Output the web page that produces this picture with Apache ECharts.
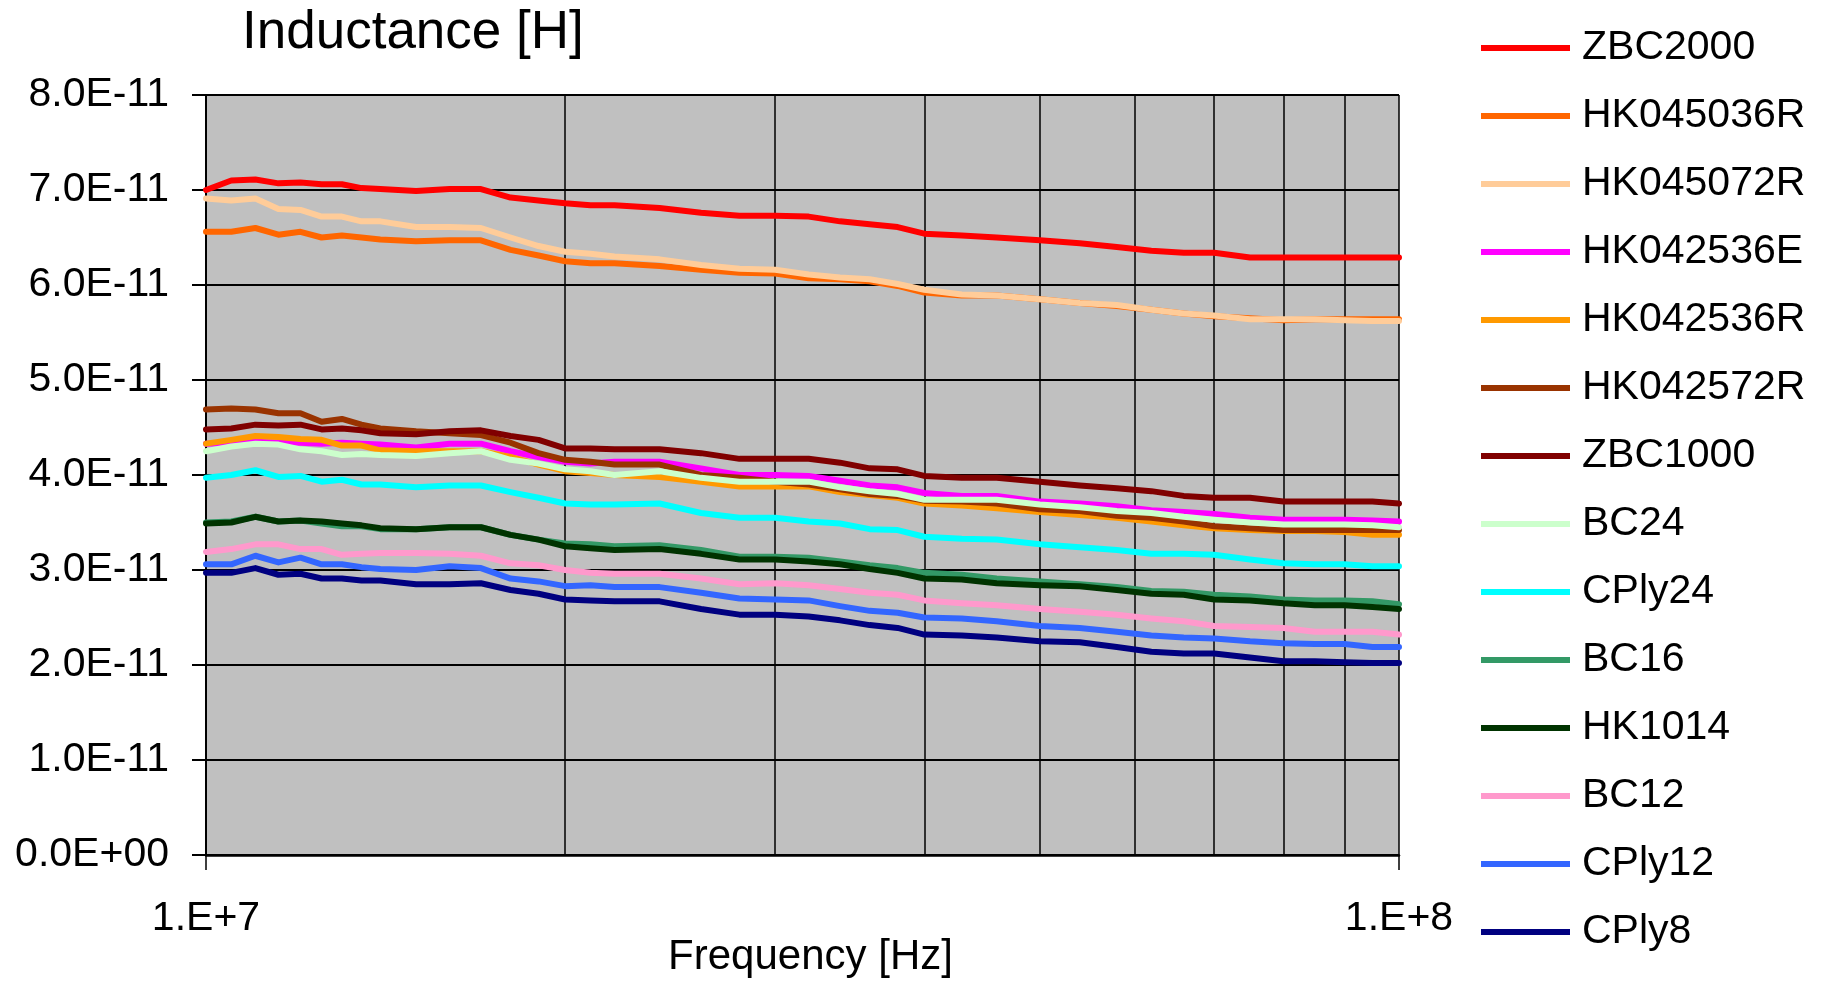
<!DOCTYPE html>
<html>
<head>
<meta charset="utf-8">
<title>Inductance [H]</title>
<script src="https://cdn.jsdelivr.net/npm/echarts@6/dist/echarts.min.js"></script>
<style>
  html, body { margin: 0; padding: 0; background: #fff; }
  #chart { width: 1824px; height: 982px; }
</style>
</head>
<body>
<div id="chart"></div>
<script>
// Frequency samples in MHz
const freqMHz = [10, 10.5, 11, 11.5, 12, 12.5, 13, 13.5, 14, 15, 16, 17, 18, 19, 20, 21, 22, 24, 26, 28,
                 30, 32, 34, 36, 38, 40, 43, 46, 50, 54, 58, 62, 66, 70, 75, 80, 85, 90, 95, 100];

// Inner vertical grid lines of the log frequency axis (MHz)
const minorGridMHz = [20, 30, 40, 50, 60, 70, 80, 90];

// Inductance of each sample, in units of 1E-11 H
const ZBC2000 = [7.00, 7.10, 7.11, 7.07, 7.08, 7.06, 7.06, 7.02, 7.01, 6.99, 7.01, 7.01, 6.92, 6.89, 6.86, 6.84, 6.84, 6.81, 6.76, 6.73,
                 6.73, 6.72, 6.67, 6.64, 6.61, 6.54, 6.52, 6.50, 6.47, 6.44, 6.40, 6.36, 6.34, 6.34, 6.29, 6.29, 6.29, 6.29, 6.29, 6.29];
const HK045036R = [6.56, 6.56, 6.60, 6.53, 6.56, 6.50, 6.52, 6.50, 6.48, 6.46, 6.47, 6.47, 6.37, 6.31, 6.25, 6.23, 6.23, 6.20, 6.16, 6.13,
                   6.12, 6.07, 6.06, 6.04, 5.99, 5.92, 5.89, 5.89, 5.85, 5.81, 5.78, 5.74, 5.70, 5.67, 5.65, 5.63, 5.64, 5.64, 5.64, 5.64];
const HK045072R = [6.91, 6.89, 6.91, 6.80, 6.79, 6.72, 6.72, 6.67, 6.67, 6.61, 6.61, 6.60, 6.50, 6.41, 6.35, 6.33, 6.30, 6.27, 6.21, 6.17,
                   6.16, 6.11, 6.08, 6.06, 6.01, 5.95, 5.90, 5.89, 5.85, 5.81, 5.79, 5.74, 5.70, 5.68, 5.64, 5.64, 5.64, 5.63, 5.62, 5.62];
const HK042536E = [4.33, 4.34, 4.35, 4.34, 4.34, 4.33, 4.34, 4.33, 4.32, 4.29, 4.33, 4.33, 4.25, 4.19, 4.14, 4.12, 4.14, 4.14, 4.07, 4.00,
                   4.00, 3.99, 3.94, 3.89, 3.87, 3.81, 3.78, 3.78, 3.72, 3.70, 3.67, 3.63, 3.61, 3.59, 3.55, 3.53, 3.53, 3.53, 3.52, 3.51];
const HK042536R = [4.33, 4.37, 4.41, 4.40, 4.38, 4.37, 4.31, 4.31, 4.26, 4.25, 4.25, 4.25, 4.19, 4.11, 4.04, 4.02, 4.00, 3.98, 3.93, 3.88,
                   3.88, 3.88, 3.82, 3.79, 3.76, 3.70, 3.68, 3.65, 3.61, 3.58, 3.55, 3.51, 3.47, 3.44, 3.42, 3.41, 3.41, 3.40, 3.37, 3.37];
const HK042572R = [4.69, 4.70, 4.69, 4.65, 4.65, 4.56, 4.59, 4.53, 4.49, 4.46, 4.44, 4.42, 4.34, 4.23, 4.16, 4.14, 4.11, 4.11, 4.00, 3.97,
                   3.93, 3.90, 3.85, 3.80, 3.78, 3.73, 3.72, 3.70, 3.64, 3.62, 3.57, 3.55, 3.51, 3.46, 3.44, 3.42, 3.42, 3.42, 3.42, 3.42];
const ZBC1000 = [4.48, 4.49, 4.53, 4.52, 4.53, 4.48, 4.49, 4.47, 4.44, 4.43, 4.46, 4.47, 4.41, 4.37, 4.28, 4.28, 4.27, 4.27, 4.23, 4.17,
                 4.17, 4.17, 4.13, 4.07, 4.06, 3.99, 3.97, 3.97, 3.93, 3.89, 3.86, 3.83, 3.78, 3.76, 3.76, 3.72, 3.72, 3.72, 3.72, 3.70];
const BC24 = [4.25, 4.30, 4.33, 4.32, 4.27, 4.25, 4.21, 4.22, 4.21, 4.20, 4.23, 4.25, 4.16, 4.12, 4.06, 4.04, 4.00, 4.04, 3.97, 3.93,
              3.93, 3.93, 3.87, 3.83, 3.80, 3.74, 3.74, 3.74, 3.69, 3.66, 3.62, 3.60, 3.56, 3.53, 3.50, 3.48, 3.48, 3.48, 3.47, 3.45];
const CPly24 = [3.97, 4.00, 4.05, 3.98, 3.99, 3.93, 3.95, 3.90, 3.90, 3.87, 3.89, 3.89, 3.82, 3.76, 3.70, 3.69, 3.69, 3.70, 3.60, 3.55,
                3.55, 3.51, 3.49, 3.43, 3.42, 3.35, 3.33, 3.32, 3.27, 3.24, 3.21, 3.17, 3.17, 3.16, 3.11, 3.07, 3.06, 3.06, 3.04, 3.04];
const BC16 = [3.50, 3.51, 3.56, 3.51, 3.52, 3.49, 3.46, 3.46, 3.43, 3.43, 3.45, 3.45, 3.37, 3.32, 3.28, 3.27, 3.25, 3.26, 3.21, 3.14,
              3.14, 3.13, 3.09, 3.05, 3.02, 2.97, 2.95, 2.91, 2.88, 2.85, 2.82, 2.78, 2.77, 2.74, 2.72, 2.69, 2.68, 2.68, 2.67, 2.64];
const HK1014 = [3.49, 3.50, 3.56, 3.51, 3.52, 3.51, 3.49, 3.47, 3.44, 3.43, 3.45, 3.45, 3.37, 3.32, 3.25, 3.23, 3.21, 3.22, 3.17, 3.11,
                3.11, 3.09, 3.06, 3.01, 2.97, 2.91, 2.90, 2.86, 2.84, 2.83, 2.79, 2.75, 2.74, 2.69, 2.68, 2.65, 2.63, 2.63, 2.61, 2.59];
const BC12 = [3.19, 3.22, 3.27, 3.27, 3.22, 3.22, 3.16, 3.17, 3.18, 3.18, 3.17, 3.15, 3.07, 3.05, 3.00, 2.97, 2.96, 2.96, 2.91, 2.85,
              2.86, 2.84, 2.80, 2.76, 2.74, 2.68, 2.65, 2.63, 2.59, 2.56, 2.53, 2.49, 2.46, 2.41, 2.40, 2.39, 2.35, 2.35, 2.35, 2.32];
const CPly12 = [3.06, 3.06, 3.15, 3.08, 3.13, 3.06, 3.06, 3.03, 3.01, 3.00, 3.04, 3.02, 2.91, 2.88, 2.83, 2.84, 2.82, 2.82, 2.76, 2.70,
                2.69, 2.68, 2.62, 2.57, 2.55, 2.50, 2.49, 2.46, 2.41, 2.39, 2.35, 2.31, 2.29, 2.28, 2.25, 2.23, 2.22, 2.22, 2.19, 2.19];
const CPly8 = [2.97, 2.97, 3.02, 2.95, 2.96, 2.91, 2.91, 2.89, 2.89, 2.85, 2.85, 2.86, 2.79, 2.75, 2.69, 2.68, 2.67, 2.67, 2.59, 2.53,
               2.53, 2.51, 2.47, 2.42, 2.39, 2.32, 2.31, 2.29, 2.25, 2.24, 2.19, 2.14, 2.12, 2.12, 2.08, 2.04, 2.04, 2.03, 2.02, 2.02];

const seriesNames = ['ZBC2000', 'HK045036R', 'HK045072R', 'HK042536E', 'HK042536R', 'HK042572R', 'ZBC1000',
                     'BC24', 'CPly24', 'BC16', 'HK1014', 'BC12', 'CPly12', 'CPly8'];
const seriesValues = [ZBC2000, HK045036R, HK045072R, HK042536E, HK042536R, HK042572R, ZBC1000,
                      BC24, CPly24, BC16, HK1014, BC12, CPly12, CPly8];
const seriesColors = ['#FF0000', '#FF6600', '#FFCC99', '#FF00FF', '#FF9900', '#993300', '#800000',
                      '#CCFFCC', '#00FFFF', '#339966', '#003300', '#FF99CC', '#3366FF', '#000080'];

const FONT = '"Liberation Sans", Arial, Helvetica, sans-serif';

// "7.0E-11" style labels
function sciLabel(v) {
  const s = Number(v).toExponential(1);
  const parts = s.split('e');
  const sign = parts[1][0] === '-' ? '-' : '+';
  const digits = parts[1].replace(/[+-]/, '').padStart(2, '0');
  return parts[0] + 'E' + sign + digits;
}

const lineSeries = seriesNames.map((name, k) => ({
  name: name,
  type: 'line',
  z: 2,
  symbol: 'none',
  showSymbol: false,
  animation: false,
  color: seriesColors[k],
  lineStyle: { width: 6, color: seriesColors[k], cap: 'round', join: 'round' },
  data: freqMHz.map((f, i) => [f * 1e6, seriesValues[k][i] * 1e-11])
}));

// Carrier for the inner log grid lines, drawn beneath the curves
const gridSeries = {
  name: '__grid',
  type: 'line',
  data: [],
  z: 1,
  silent: true,
  animation: false,
  markLine: {
    z: 1,
    silent: true,
    animation: false,
    symbol: ['none', 'none'],
    label: { show: false },
    lineStyle: { color: '#000', width: 1.5, type: 'solid' },
    emphasis: { disabled: true },
    data: minorGridMHz.map(f => ({ xAxis: f * 1e6 }))
  }
};

const chart = echarts.init(document.getElementById('chart'), null, { renderer: 'canvas' });
chart.setOption({
  backgroundColor: '#ffffff',
  animation: false,
  textStyle: { fontFamily: FONT },
  title: {
    text: 'Inductance [H]',
    left: 242,
    top: 7,
    padding: 0,
    textStyle: { fontFamily: FONT, fontSize: 53, fontWeight: 'normal', color: '#000', lineHeight: 53 }
  },
  legend: {
    data: seriesNames,
    orient: 'vertical',
    left: 1481,
    top: 21,
    padding: 0,
    itemGap: 14,
    itemWidth: 89,
    itemHeight: 6,
    icon: 'rect',
    selectedMode: false,
    textStyle: { fontFamily: FONT, fontSize: 41, color: '#000', lineHeight: 40, padding: [0, 0, 14, 7] }
  },
  grid: {
    left: 206,
    top: 95,
    width: 1193,
    height: 760,
    show: true,
    backgroundColor: '#C0C0C0',
    borderWidth: 0,
    containLabel: false,
    outerBoundsMode: 'none'
  },
  xAxis: {
    type: 'log',
    logBase: 10,
    min: 1e7,
    max: 1e8,
    name: 'Frequency [Hz]',
    nameLocation: 'middle',
    nameGap: 81,
    nameMoveOverlap: false,
    nameTextStyle: { fontFamily: FONT, fontSize: 42, color: '#000', lineHeight: 42, padding: [0, 0, 0, 16] },
    axisLine: { show: true, lineStyle: { color: '#000', width: 2.5 } },
    axisTick: { show: true, inside: false, length: 15, lineStyle: { color: '#000', width: 1.5 } },
    axisLabel: {
      fontFamily: FONT, fontSize: 41, color: '#000', margin: 43,
      formatter: v => '1.E+' + Math.round(Math.log10(v))
    },
    splitLine: { show: true, lineStyle: { color: '#000', width: 1.5 } },
    minorTick: { show: false },
    minorSplitLine: { show: false }
  },
  yAxis: {
    type: 'value',
    min: 0,
    max: 8e-11,
    interval: 1e-11,
    axisLine: { show: true, lineStyle: { color: '#000', width: 2 } },
    axisTick: { show: true, inside: false, length: 14, lineStyle: { color: '#000', width: 2 } },
    axisLabel: { fontFamily: FONT, fontSize: 41, color: '#000', margin: 37, formatter: sciLabel },
    splitLine: { show: true, lineStyle: { color: '#000', width: 2 } }
  },
  series: [gridSeries].concat(lineSeries)
});
</script>
</body>
</html>
